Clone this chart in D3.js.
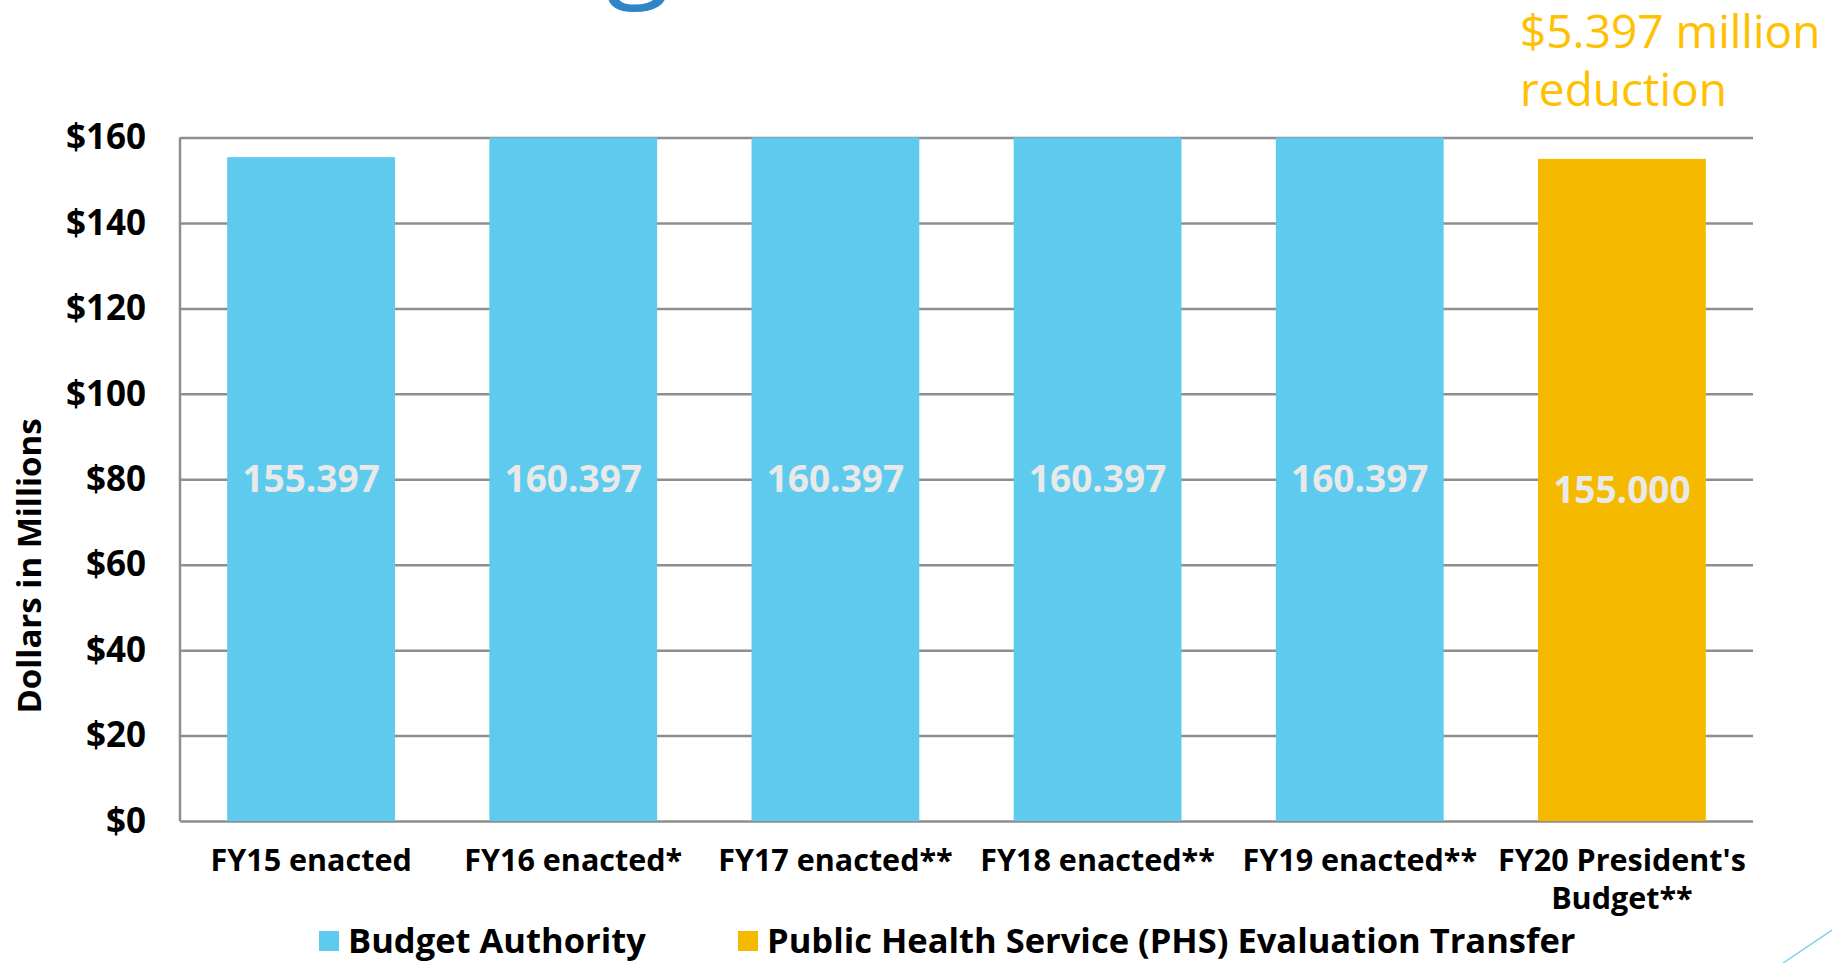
<!DOCTYPE html>
<html>
<head>
<meta charset="utf-8">
<script src="https://cdn.jsdelivr.net/npm/d3@7"></script>
<style>
  body { margin: 0; background: #fff; overflow: hidden; }
  text { font-family: "Open Sans", sans-serif; }
</style>
</head>
<body>
<div id="chart"></div>
<script>
// Chart data
const categories = ["FY15 enacted", "FY16 enacted*", "FY17 enacted**", "FY18 enacted**", "FY19 enacted**", "FY20 President's|Budget**"];
const budgetAuthority = [155.397, 160.397, 160.397, 160.397, 160.397, 0];
const phsTransfer = [0, 0, 0, 0, 0, 155.000];
const barLabels = ["155.397", "160.397", "160.397", "160.397", "160.397", "155.000"];
const yTicks = [0, 20, 40, 60, 80, 100, 120, 140, 160];
const seriesNames = ["Budget Authority", "Public Health Service (PHS) Evaluation Transfer"];
const colors = ["#5ecbee", "#f5ba00"];

const W = 1832, H = 963;
const margin = { top: 137.5, right: 79, bottom: 142, left: 180 };
const iw = W - margin.left - margin.right;
const ih = H - margin.top - margin.bottom;

const svg = d3.select("#chart").append("svg")
  .attr("width", W).attr("height", H);

// partially visible title glyph at the top edge
svg.append("text")
  .attr("x", 606).attr("y", -16)
  .attr("font-size", 118)
  .attr("fill", "#2e86c8")
  .text("g");

const g = svg.append("g").attr("transform", `translate(${margin.left},${margin.top})`);

const x = d3.scaleBand().domain(categories).range([0, iw]).paddingInner(0.36).paddingOuter(0.18);
const y = d3.scaleLinear().domain([0, 160]).range([ih, 0]).clamp(true);

// gridlines + y axis
const yAxis = g.append("g")
  .call(d3.axisLeft(y).tickValues(yTicks).tickSize(-iw).tickFormat(d => "$" + d).tickPadding(34));
yAxis.select(".domain").remove();
yAxis.selectAll(".tick line").attr("stroke", "#8e8e8e").attr("stroke-width", 2.5);
yAxis.selectAll(".tick text")
  .attr("font-size", 35).attr("font-weight", 700).attr("fill", "#000")
  .attr("font-family", "'Open Sans', sans-serif");
g.append("line")
  .attr("x1", 0).attr("x2", 0).attr("y1", 0).attr("y2", ih)
  .attr("stroke", "#8e8e8e").attr("stroke-width", 2.5);

// stacked bars
const rows = categories.map((c, i) => ({ cat: c, ba: budgetAuthority[i], phs: phsTransfer[i] }));
const stack = d3.stack().keys(["ba", "phs"])(rows);

g.selectAll(".series")
  .data(stack)
  .enter().append("g")
  .attr("fill", (d, i) => colors[i])
  .selectAll("rect")
  .data(d => d.filter(p => p[1] > p[0]))
  .enter().append("rect")
  .attr("x", d => x(d.data.cat))
  .attr("width", x.bandwidth())
  .attr("y", d => y(d[1]))
  .attr("height", d => y(d[0]) - y(d[1]));

// value labels
g.selectAll(".val")
  .data(rows)
  .enter().append("text")
  .attr("x", d => x(d.cat) + x.bandwidth() / 2)
  .attr("y", d => (y(d.ba + d.phs) + y(0)) / 2 - (d.ba > 0 && d.ba < 160 ? 10 : 0))
  .attr("dy", "0.35em")
  .attr("text-anchor", "middle")
  .attr("font-size", 37).attr("font-weight", 700)
  .attr("fill", "#e9e9e9")
  .text((d, i) => barLabels[i]);

// category labels
const cat = g.selectAll(".cat")
  .data(categories)
  .enter().append("text")
  .attr("x", d => x(d) + x.bandwidth() / 2)
  .attr("y", ih + 50)
  .attr("text-anchor", "middle")
  .attr("font-size", 30.5).attr("font-weight", 700).attr("fill", "#000");
cat.selectAll("tspan")
  .data(d => d.split("|").map((t, j) => ({ t, j })))
  .enter().append("tspan")
  .attr("x", function () { return d3.select(this.parentNode).attr("x"); })
  .attr("dy", d => d.j === 0 ? 0 : 38)
  .text(d => d.t);

// y-axis title
svg.append("text")
  .attr("transform", `translate(41,566) rotate(-90)`)
  .attr("text-anchor", "middle")
  .attr("font-size", 33).attr("font-weight", 700).attr("fill", "#000")
  .text("Dollars in Millions");

// legend
const legendX = [319, 738];
const leg = svg.selectAll(".leg")
  .data(seriesNames)
  .enter().append("g")
  .attr("transform", (d, i) => `translate(${legendX[i]},941)`);
leg.append("rect")
  .attr("x", 0).attr("y", -10).attr("width", 20).attr("height", 20)
  .attr("fill", (d, i) => colors[i]);
leg.append("text")
  .attr("x", 29).attr("y", 0).attr("dy", "0.36em")
  .attr("font-size", 34.5).attr("font-weight", 700).attr("fill", "#000")
  .text(d => d);

// annotation
const ann = svg.append("text")
  .attr("x", 1520).attr("y", 48)
  .attr("font-size", 46).attr("fill", "#ffc000");
ann.append("tspan").attr("x", 1520).text("$5.397 million");
ann.append("tspan").attr("x", 1520).attr("dy", 58).text("reduction");

// decorative corner line
svg.append("line")
  .attr("x1", 1783).attr("y1", 963).attr("x2", 1832).attr("y2", 930)
  .attr("stroke", "#7fd0ee").attr("stroke-width", 1.5);
</script>
</body>
</html>
